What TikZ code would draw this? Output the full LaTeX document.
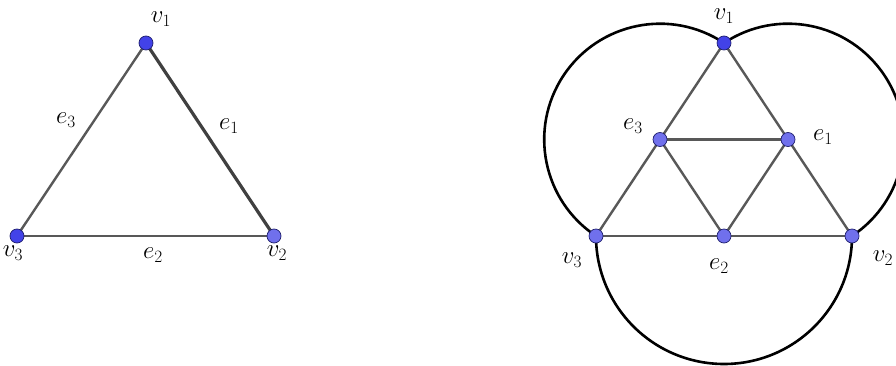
\documentclass[tikz,border=0pt]{standalone}
\usetikzlibrary{calc}
\definecolor{vdark}{RGB}{66,66,232}
\definecolor{vlight}{RGB}{112,112,236}
\definecolor{vrim}{RGB}{30,30,110}
\definecolor{edgegray}{RGB}{88,88,88}
\tikzset{
  dotv/.style={circle,inner sep=0pt,minimum size=14pt,fill=vlight,draw=vrim,line width=0.7pt},
  dotd/.style={dotv,fill=vdark},
  gedge/.style={draw=edgegray,line width=2.4pt},
  arcline/.style={draw=black,line width=2.6pt},
  lab/.style={inner sep=0pt,font=\fontsize{23}{27}\selectfont}
}
\begin{document}
\begin{tikzpicture}[x=1pt,y=1pt]
\useasboundingbox (0,0) rectangle (896,365);
\clip (0,0) rectangle (896,365);
% ---------- left triangle ----------
\coordinate (L1) at (146,322);
\coordinate (L3) at (17,129);
\coordinate (L2) at (274,129);
\draw[gedge] (L1) -- (L3);
\draw[gedge] (L3) -- (L2);
\draw[gedge,line width=3.2pt,draw=black!75] (L1) -- (L2);
\node[dotd] (lv1) at (L1) {};
\node[dotd] (lv3) at (L3) {};
\node[dotv] (lv2) at (L2) {};
\node[lab] (llv1) at (161,346) {$v_1$};
\node[lab] (lle3) at (66,245) {$e_3$};
\node[lab] (lle1) at (229,239) {$e_1$};
\node[lab] (llv3) at (13,112) {$v_3$};
\node[lab] (lle2) at (153,110) {$e_2$};
\node[lab] (llv2) at (277,112) {$v_2$};
% ---------- right figure ----------
\coordinate (R1) at (724,322);
\coordinate (R3) at (596,129);
\coordinate (R2) at (852,129);
\coordinate (M3) at ($(R1)!0.5!(R3)$);
\coordinate (M1) at ($(R1)!0.5!(R2)$);
\coordinate (M2) at ($(R3)!0.5!(R2)$);
% arcs (semicircles on each side)
\draw[arcline] (R1) arc[start angle=56.45, end angle=236.45, radius=115.8];
\draw[arcline] (R2) arc[start angle=-56.45, end angle=123.55, radius=115.8];
\draw[arcline] (R3) arc[start angle=180, end angle=360, radius=128];
% triangle edges
\draw[gedge] (R1) -- (R3);
\draw[gedge] (R1) -- (R2);
\draw[gedge] (R3) -- (R2);
\draw[gedge] (M3) -- (M1);
\draw[gedge] (M3) -- (M2);
\draw[gedge] (M1) -- (M2);
\node[dotd] (rv1) at (R1) {};
\node[dotv] (rv3) at (R3) {};
\node[dotv] (rv2) at (R2) {};
\node[dotv] (re3) at (M3) {};
\node[dotv] (re1) at (M1) {};
\node[dotv] (re2) at (M2) {};
\node[lab] (rlv1) at (724,349) {$v_1$};
\node[lab] (rle3) at (633,239) {$e_3$};
\node[lab] (rle1) at (823,228) {$e_1$};
\node[lab] (rlv3) at (572,105) {$v_3$};
\node[lab] (rle2) at (719,99) {$e_2$};
\node[lab] (rlv2) at (883,107) {$v_2$};
\end{tikzpicture}
\end{document}
